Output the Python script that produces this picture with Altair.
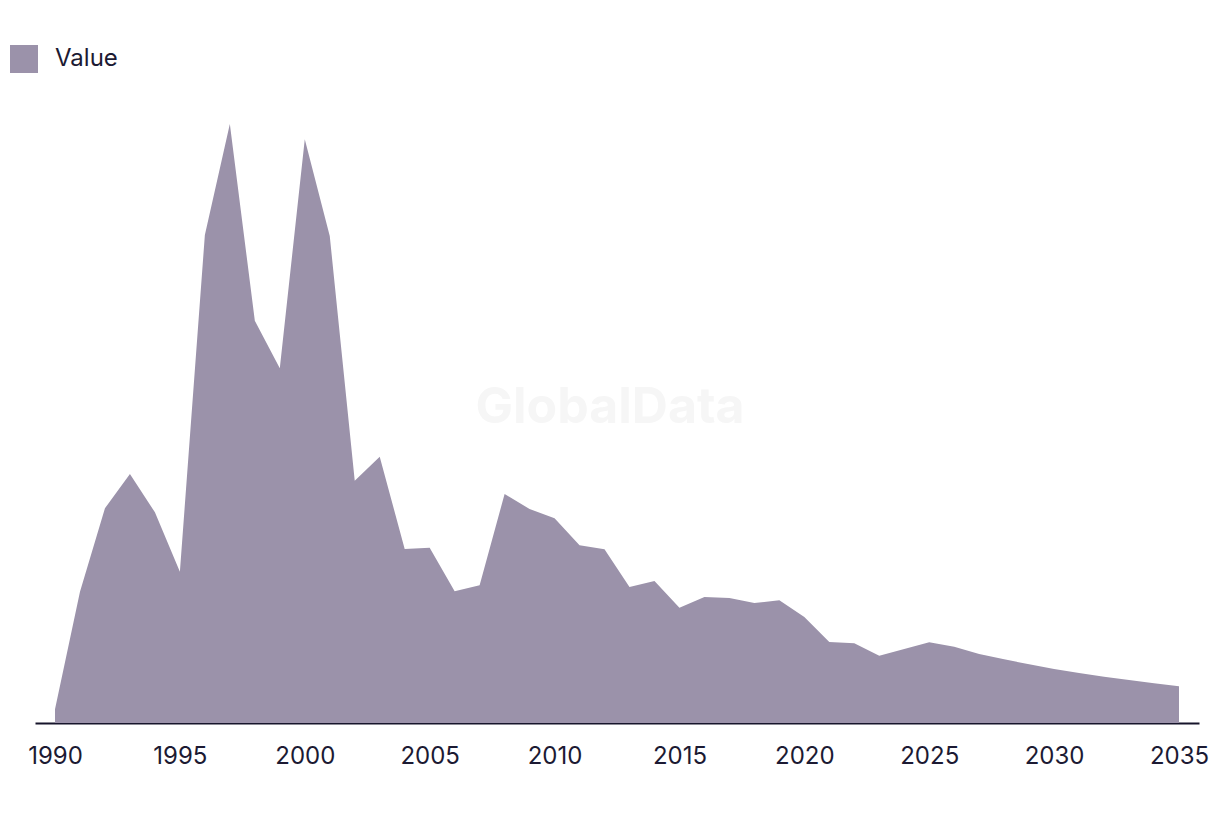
import altair as alt
import pandas as pd

years = list(range(1990, 2036))
values = [13.7, 131.3, 214.7, 249.0, 210.7, 151.3, 488.0, 599.0, 402.3, 354.7,
          583.7, 487.0, 242.3, 266.3, 174.0, 175.3, 131.7, 137.7, 229.0, 214.0,
          204.7, 177.7, 173.7, 136.0, 142.0, 115.3, 126.0, 125.0, 120.0, 122.7,
          106.0, 81.0, 79.7, 67.3, 74.0, 80.7, 76.3, 69.0, 63.7, 58.7,
          54.0, 50.0, 46.3, 43.0, 39.7, 36.7]
series = ["Value"] * len(years)
tick_years = list(range(1990, 2036, 5))
watermark = ["GlobalData"]

df = pd.DataFrame({"year": years, "value": values, "series": series})
wm = pd.DataFrame({"t": watermark})

FONT = "Inter"
TEXT_COLOR = "#1c1a33"

wm_layer = alt.Chart(wm).mark_text(
    font=FONT, fontSize=50, fontWeight="bold", color="#f6f6f6",
    align="center", baseline="middle"
).encode(
    text="t:N",
    x=alt.value(575),
    y=alt.value(325),
)

area = alt.Chart(df).mark_area(interpolate="linear", opacity=1).encode(
    x=alt.X(
        "year:Q",
        scale=alt.Scale(domain=[1990, 2035], padding=20, nice=False, zero=False),
        axis=alt.Axis(
            values=tick_years, format="d", title=None, grid=False,
            ticks=False, tickSize=0, labelFontSize=24, labelFont=FONT,
            labelColor=TEXT_COLOR, labelPadding=21, domainColor="#16142b",
            domainWidth=2, labelFlush=False, labelOverlap=False,
        ),
    ),
    y=alt.Y(
        "value:Q",
        scale=alt.Scale(domain=[0, 640], nice=False),
        axis=None,
    ),
    color=alt.Color(
        "series:N",
        scale=alt.Scale(domain=["Value"], range=["#9b92aa"]),
        legend=alt.Legend(
            orient="none", legendX=-25, legendY=-38, title=None,
            symbolType="square", symbolSize=784, symbolStrokeWidth=0,
            symbolOpacity=1, labelFontSize=24, labelFont=FONT,
            labelColor=TEXT_COLOR, labelOffset=17, padding=0,
        ),
    ),
)

chart = alt.layer(wm_layer, area).properties(
    width=1164,
    height=640,
    autosize=alt.AutoSizeParams(type="none"),
    padding={"left": 35, "top": 83, "right": 21, "bottom": 93},
    background="white",
).configure_view(stroke=None)

chart.save("out.html", embed_options={"renderer": "svg", "actions": False})
